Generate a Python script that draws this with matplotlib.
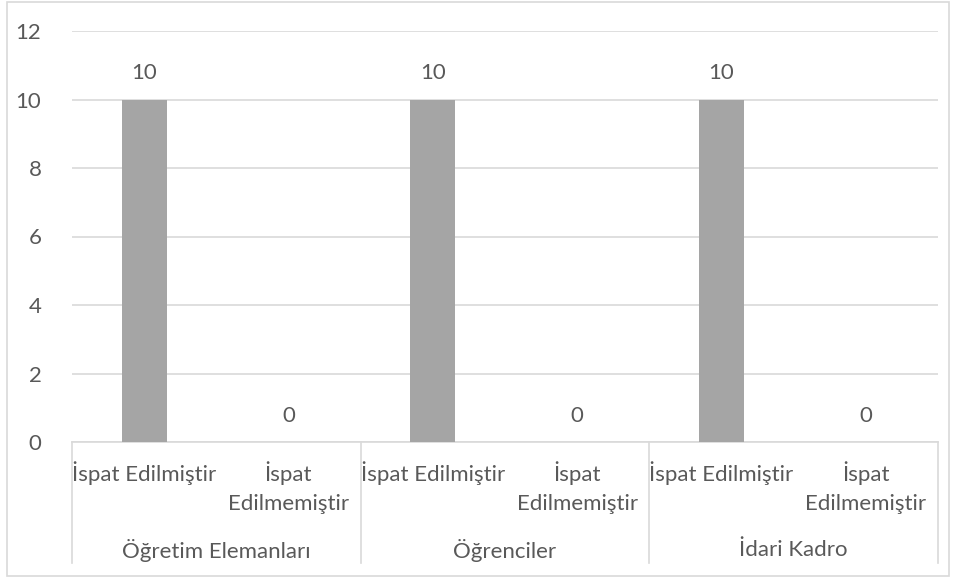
import matplotlib
matplotlib.use("Agg")
import matplotlib.pyplot as plt
from matplotlib.patches import Rectangle
import matplotlib.transforms as mtransforms

# data
groups = ["Öğretim Elemanları", "Öğrenciler", "İdari Kadro"]
categories = ["İspat Edilmiştir", "İspat\nEdilmemiştir"] * 3
values = [10, 0, 10, 0, 10, 0]
yticks = [0, 2, 4, 6, 8, 10, 12]

text_color = "#595959"
grid_color = "#d9d9d9"
bar_color = "#a5a5a5"
plt.rcParams["font.family"] = ["Lato", "DejaVu Sans"]
fs = 16

fig = plt.figure(figsize=(9.57, 5.78), dpi=100)
# outer chart border
fig.patches.append(Rectangle((7 / 957, 2 / 578), 942 / 957, 574 / 578, transform=fig.transFigure,
                             fill=False, edgecolor=grid_color, linewidth=1.2))
ax = fig.add_axes([72 / 957, 136 / 578, 866 / 957, 411 / 578])

x = list(range(len(values)))
ax.bar(x, values, width=0.31, color=bar_color, zorder=3)
ax.set_xlim(-0.5, len(values) - 0.5)
ax.set_ylim(0, 12)
ax.set_yticks(yticks)
ax.yaxis.grid(True, color=grid_color, linewidth=1.2, zorder=0)
ax.tick_params(axis="y", length=0, pad=22, labelsize=fs, labelcolor=text_color)
ax.set_xticks([])
for s in ["top", "right", "left"]:
    ax.spines[s].set_visible(False)
ax.spines["bottom"].set_color(grid_color)
ax.spines["bottom"].set_linewidth(1.2)

# data labels
for xi, v in zip(x, values):
    ax.annotate(str(v), (xi, v), xytext=(0, 19), textcoords="offset points",
                ha="center", va="center", fontsize=fs, color=text_color)

# category labels (two-level axis)
trans = mtransforms.blended_transform_factory(ax.transData, ax.transAxes)
px = 1 / 411
for xi, lab in zip(x, categories):
    ax.text(xi, -19 * px, lab, transform=trans, ha="center", va="top",
            fontsize=fs, color=text_color, linespacing=1.6)
for gi, g in enumerate(groups):
    ax.text(gi * 2 + 0.5, -108 * px, g, transform=trans, ha="center", va="center",
            fontsize=fs, color=text_color)
for b in [-0.5, 1.5, 3.5, 5.5]:
    ax.plot([b, b], [0, -121 * px], transform=trans, color=grid_color,
            linewidth=1.2, clip_on=False)

fig.savefig("out.png", dpi=100)
